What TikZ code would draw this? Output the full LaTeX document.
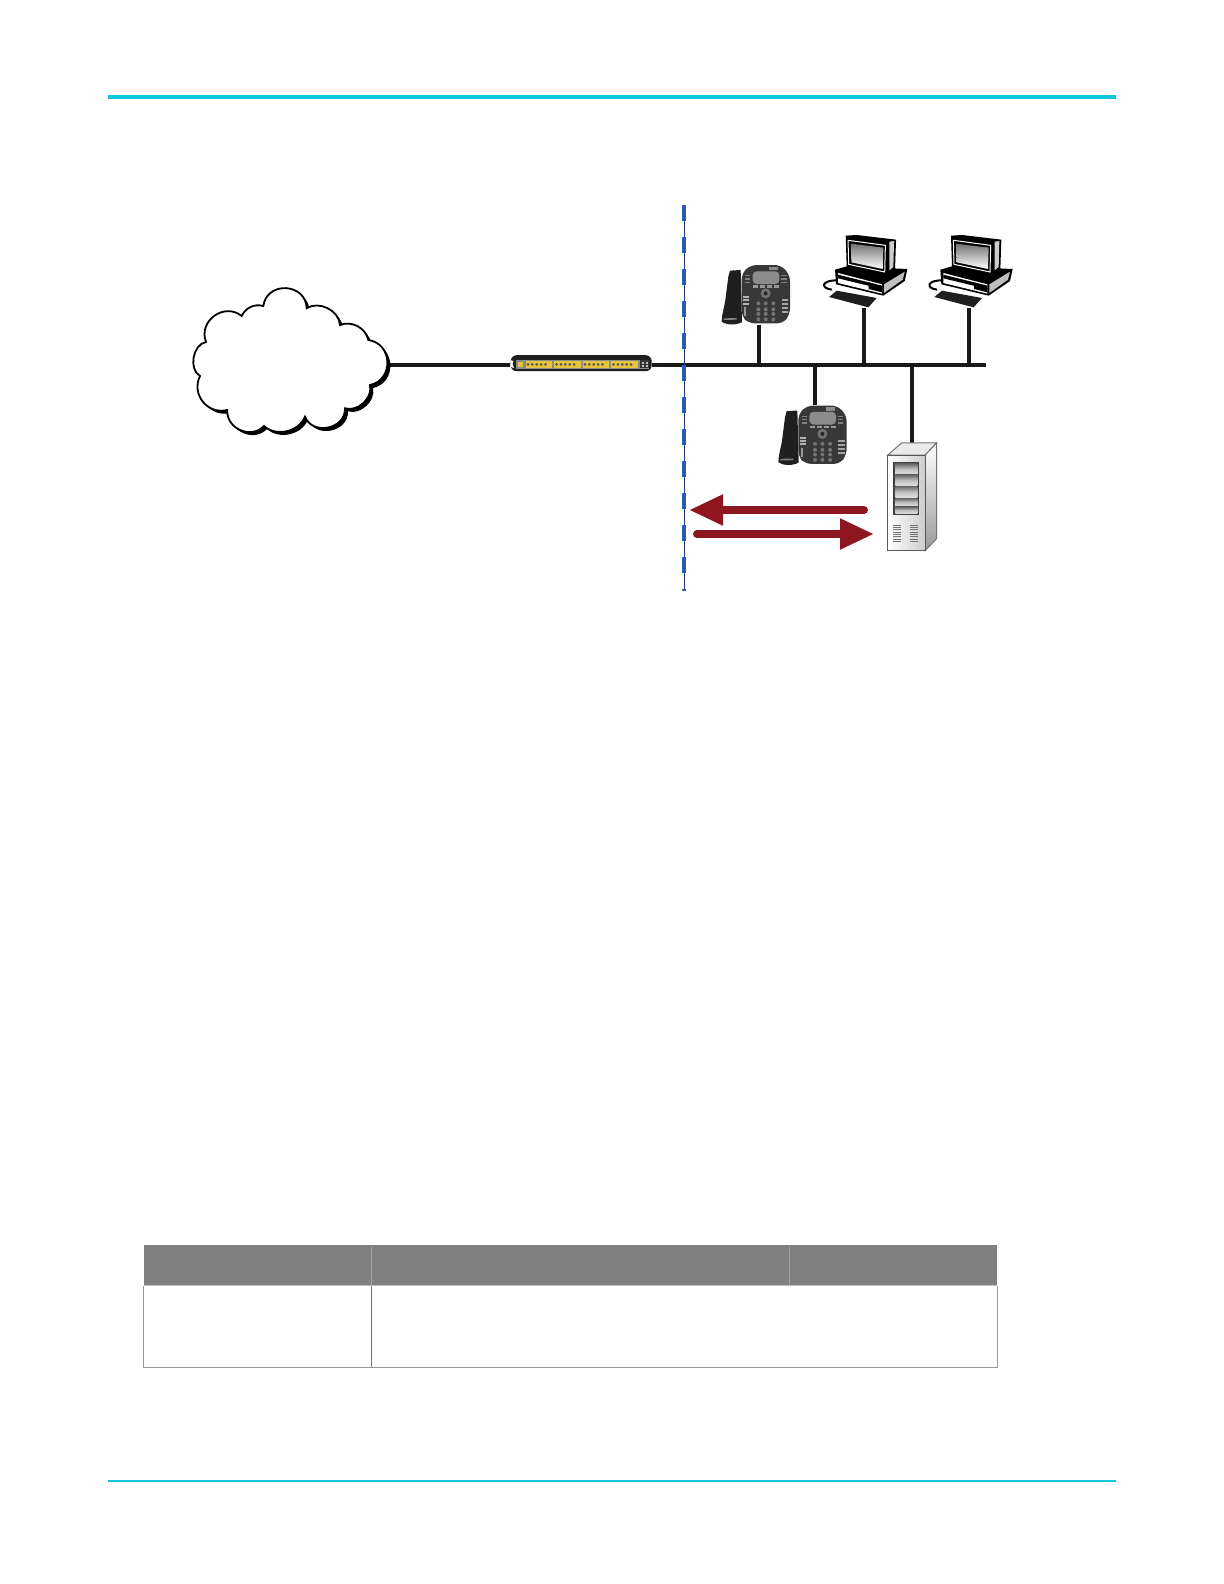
\documentclass[tikz,border=0pt]{standalone}
\usepackage{xcolor}
\usetikzlibrary{arrows.meta,shadows}
\definecolor{rulecyan}{HTML}{12C6DC}
\definecolor{flowred}{HTML}{8E1620}
\definecolor{edgeblue}{HTML}{2A5CAF}
\definecolor{edgenavy}{HTML}{1F3A6E}
\definecolor{headgray}{HTML}{808080}
\definecolor{portyellow}{HTML}{E6C43C}
\tikzset{
wire/.style={line width=1.9pt,black!90},
flow/.style={line width=4pt,flowred,line cap=round,-{Triangle[length=17pt,width=14.5pt]}},
tablerule/.style={line width=.6pt,black!40},
switchbox/.style={fill=black!88,rounded corners=3pt,minimum width=70.5pt,minimum height=8pt,inner sep=0pt},
phone/.pic={\begin{scope}[scale=1/3,shift={(-237,-345)}]
\fill[black!88] (150,182) -- (182,180) -- (186,336) .. controls (170,346) and (140,346) .. (125,335) .. controls (125,315) and (132,295) .. (136,270) -- (145,200) -- cycle;
\fill[black!50] (132,325) -- (170,324) -- (170,329) -- (131,330) -- cycle;
\fill[black!78,rounded corners=3pt] (212,165) -- (302,165) -- (330,195) -- (330,312) -- (310,340) -- (205,340) -- (185,318) -- (185,190) -- cycle;
\fill[black!45] (268,170) rectangle (295,180);
\fill[black!45,rounded corners=2pt] (218,184) rectangle (298,222);
\foreach \kx in {220,241,262,283} \fill[black!40] (\kx,226) rectangle ++(15,7);
\fill[black!55] (257,250) circle (15);
\fill[black!85] (257,250) circle (6);
\foreach \kx in {235,257,280} \foreach \ky in {280,298,312,328} \fill[black!55] (\kx,\ky) circle (6);
\foreach \ky in {258,268,278} \fill[black!30] (190,\ky) rectangle ++(17,6);
\fill[black!40] (193,292) rectangle (199,318);
\foreach \ky in {268,280,292,304} \fill[black!35] (305,\ky) rectangle ++(20,6);
\foreach \ky in {195,205,215} {\fill[black!50] (195,\ky) rectangle ++(16,4);\fill[black!50] (304,\ky) rectangle ++(16,4);}
\end{scope}},
desktop/.pic={\begin{scope}[scale=1/3,shift={(-551,-295)}]
\draw[black,line width=1pt] (470,212) .. controls (425,212) and (420,235) .. (455,240);
\fill[black] (465,180) -- (500,170) -- (682,178) -- (674,214) -- (610,258) -- (468,224) -- cycle;
\fill[white] (474,190) -- (606,224) -- (606,252) -- (474,220) -- cycle;
\fill[black] (474,195) -- (606,228) -- (606,238) -- (474,206) -- cycle;
\fill[black] (566,218) -- (606,230) -- (606,248) -- (566,238) -- cycle;
\fill[black!25] (612,224) -- (674,186) -- (668,210) -- (612,250) -- cycle;
\fill[black] (497,78) -- (530,76) -- (648,90) -- (645,178) -- (610,198) -- (500,172) -- cycle;
\fill[black!20] (628,96) -- (642,94) -- (640,172) -- (628,182) -- cycle;
\draw[white,line width=.5pt] (504,92) -- (616,107) -- (614,187) -- (506,164) -- cycle;
\shade[top color=black!55,bottom color=white] (512,102) -- (610,114) -- (608,178) -- (514,158) -- cycle;
\fill[black!88] (447,262) -- (470,243) -- (590,265) -- (565,293) -- cycle;
\end{scope}},
rackserver/.pic={\begin{scope}[scale=1/3,shift={(-695,-700)}]
\fill[black!8,draw=black!55,line width=.5pt] (623,735) -- (665,698) -- (770,698) -- (735,735) -- cycle;
\shade[top color=white,bottom color=black!40,draw=black!55,line width=.5pt] (735,735) -- (770,698) -- (770,985) -- (735,1022) -- cycle;
\shade[left color=white,right color=black!20,draw=black!65,line width=.5pt] (623,735) rectangle (735,1022);
\fill[black!75] (640,755) rectangle (718,915);
\foreach \by/\bh in {760/32,794/32,828/34,864/24,890/20} \shade[top color=black!60,bottom color=black!12,middle color=black!25] (646,\by) rectangle (712,\by+\bh);
\foreach \vy in {945,952,...,995} {\draw[black!55,line width=.4pt] (640,\vy) -- (663,\vy);\draw[black!55,line width=.4pt] (690,\vy) -- (714,\vy);}
\end{scope}}
}
\begin{document}
\begin{tikzpicture}[x=.5pt,y=-.5pt]
\useasboundingbox (0,0) rectangle (1224,1584);
\draw[rulecyan,line width=2.3pt] (108,97) -- (1116,97);
\draw[rulecyan,line width=1.2pt] (108,1480.7) -- (1116,1480.7);
\coordinate (cloudout) at (390,365);
\coordinate (busend) at (986,365);
\node[switchbox] (switch) at (581.2,363.2) {};
\draw[wire] (cloudout) -- (switch.west |- cloudout);
\draw[wire] (switch.east |- busend) -- (busend);
\draw[line width=.9pt,black,fill=white,drop shadow={shadow xshift=1.5pt,shadow yshift=-1.5pt,fill=black,opacity=1}] (206,342)
to[bend left=75,looseness=1.3] (241.7,316) to[bend left=40] (263.3,306)
to[bend left=85,looseness=1.5] (306.7,308.3) to[bend left=60] (340,325)
to[bend left=50] (368.3,340) to[bend left=80,looseness=1.4] (370,385)
to[bend left=60] (345,408.3) to[bend left=80,looseness=1.3] (305,416.7)
to[bend left=55] (264,426) to[bend left=70,looseness=1.2] (227.3,410)
to[bend left=65,looseness=1.2] (200,376) to[bend left=70] cycle;
\fill[black!45] (516,359.5) rectangle (649,368.5);
\fill[portyellow] (518,362) rectangle (523,367);
\foreach \gx in {525.7,554.3,582.7,611.3} {
\fill[portyellow] (\gx,361) rectangle ++(26.6,6.8);
\foreach \px in {2.2,6.6,...,24.2} \fill[black!65] (\gx+\px,364.4) circle (1.5);
}
\fill[black!80] (640,360) rectangle (649,368);
\foreach \qx in {641.5,645.5} \foreach \qy in {361.5,365} \fill[black!25] (\qx,\qy) rectangle ++(2.5,2);
\fill[white] (510.5,360) -- (513.5,361) -- (512.5,364) -- (514,368) -- (510.5,367) -- cycle;
\coordinate (phoneA) at (759,325);
\coordinate (phoneB) at (815,405);
\coordinate (pcA) at (863.7,308);
\coordinate (pcB) at (969,308);
\coordinate (server) at (911.7,443.5);
\foreach \tap in {phoneA,phoneB,pcA,pcB,server} \draw[wire] (\tap) -- (\tap |- busend);
\pic at (phoneA) {phone};
\pic at (815.7,465.5) {phone};
\pic at (pcA) {desktop};
\pic at (pcB) {desktop};
\pic at (server) {rackserver};
\coordinate (leftstart) at (864,510);
\coordinate (lefttip) at (689,510);
\coordinate (rightstart) at (697,534);
\coordinate (righttip) at (874,534);
\draw[flow] (leftstart) -- (lefttip);
\draw[flow] (rightstart) -- (righttip);
\coordinate (edgetop) at (684,204.7);
\coordinate (edgebottom) at (684,590.5);
\draw[edgenavy,line width=.5pt] (edgetop) -- (edgebottom);
\draw[edgeblue,line width=2.2pt,dash pattern=on 8pt off 8pt] (edgetop) -- (edgebottom);
\fill[headgray] (143.7,1245.3) rectangle (997.3,1285.7);
\draw[black!35,line width=.5pt] (371.3,1247) -- (371.3,1285.7);
\draw[black!35,line width=.5pt] (789.3,1247) -- (789.3,1285.7);
\draw[tablerule] (143.7,1285.7) -- (143.7,1367.3) -- (997.3,1367.3) -- (997.3,1285.7);
\draw[tablerule,black!55] (371.3,1285.7) -- (371.3,1367.3);
\draw[black!25,line width=.6pt] (143.7,1285.7) -- (997.3,1285.7);
\end{tikzpicture}
\end{document}
